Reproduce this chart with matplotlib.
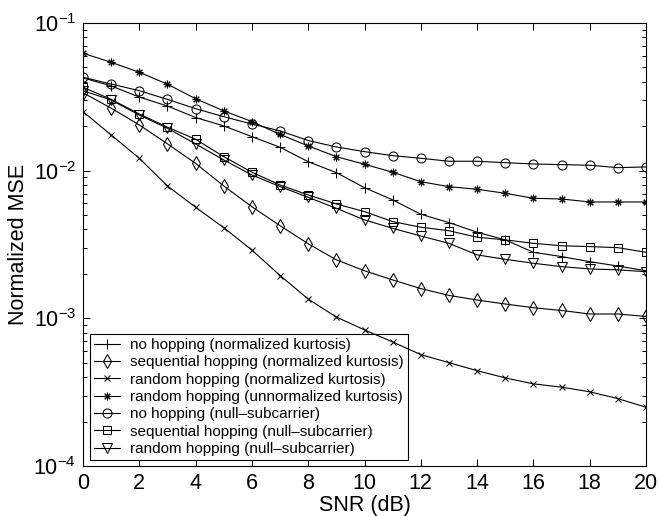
import matplotlib
matplotlib.use("Agg")
import matplotlib.pyplot as plt
import numpy as np
from matplotlib.ticker import LogLocator, FixedLocator

plt.rcParams['font.family'] = ['Liberation Sans', 'DejaVu Sans']
plt.rcParams['mathtext.fontset'] = 'custom'
plt.rcParams['mathtext.rm'] = 'Liberation Sans'
plt.rcParams['mathtext.it'] = 'Liberation Sans:italic'
plt.rcParams['mathtext.bf'] = 'Liberation Sans:bold'

# datos
snr = np.arange(0, 21)

no_hop_kurt = [0.0425, 0.0375, 0.0315, 0.0274, 0.0229, 0.0201, 0.0170, 0.0144,
               0.0115, 0.0097, 0.00767, 0.00634, 0.00507, 0.00445, 0.00383,
               0.0034, 0.0028, 0.00262, 0.00242, 0.00226, 0.0021]
seq_hop_kurt = [0.0337, 0.0265, 0.0204, 0.0152, 0.0112, 0.00788, 0.0057,
                0.00424, 0.0032, 0.00249, 0.0021, 0.00182, 0.00159, 0.00143,
                0.00133, 0.00125, 0.00118, 0.00113, 0.00107, 0.00107, 0.00103]
rnd_hop_kurt = [0.0251, 0.01745, 0.01213, 0.00788, 0.00565, 0.00411, 0.0029,
                0.00195, 0.00135, 0.00102, 0.000835, 0.000692, 0.000568,
                0.000501, 0.000442, 0.000395, 0.00036, 0.000342, 0.000318,
                0.000286, 0.00025]
rnd_hop_unnorm = [0.0624, 0.0542, 0.0464, 0.0385, 0.0307, 0.0254, 0.0215,
                  0.0176, 0.0147, 0.01244, 0.01105, 0.00976, 0.00842, 0.00779,
                  0.00748, 0.00703, 0.0065, 0.00643, 0.00614, 0.00614, 0.00614]
no_hop_null = [0.0429, 0.0386, 0.0348, 0.0304, 0.0263, 0.0232, 0.0207, 0.0186,
               0.0160, 0.01447, 0.01345, 0.01264, 0.01213, 0.01158, 0.01158,
               0.01133, 0.0111, 0.01099, 0.01088, 0.01048, 0.0106]
seq_hop_null = [0.0367, 0.0304, 0.0242, 0.0197, 0.01632, 0.01244, 0.00976,
                0.0080, 0.00685, 0.00595, 0.00528, 0.00452, 0.00414, 0.00392,
                0.00354, 0.0034, 0.00322, 0.0031, 0.00306, 0.00301, 0.0028]
rnd_hop_null = [0.0348, 0.0301, 0.0238, 0.01937, 0.01517, 0.01182, 0.00935,
                0.0078, 0.0066, 0.00556, 0.00464, 0.00407, 0.00361, 0.00322,
                0.00269, 0.00251, 0.00236, 0.00224, 0.00216, 0.00213, 0.00207]

series = [
    (no_hop_kurt, '+', 6.5, 'no hopping (normalized kurtosis)'),
    (seq_hop_kurt, 'd', 7, 'sequential hopping (normalized kurtosis)'),
    (rnd_hop_kurt, 'x', 5, 'random hopping (normalized kurtosis)'),
    (rnd_hop_unnorm, (8, 2, 0), 5.5, 'random hopping (unnormalized kurtosis)'),
    (no_hop_null, 'o', 6.5, 'no hopping (null\u2013subcarrier)'),
    (seq_hop_null, 's', 5.5, 'sequential hopping (null\u2013subcarrier)'),
    (rnd_hop_null, 'v', 6.5, 'random hopping (null\u2013subcarrier)'),
]

fig = plt.figure(figsize=(6.59, 5.16), dpi=100)
ax = fig.add_axes([83/659, 50/516, 563/659, 443/516])

for vals, mk, ms, lab in series:
    ax.plot(snr, vals, color='black', lw=0.8, marker=mk, ms=ms,
            mfc='none', mec='black', mew=0.75, label=lab, zorder=3)

ax.set_yscale('log')
ax.set_xlim(0, 20)
ax.set_ylim(1e-4, 1e-1)
ax.xaxis.set_major_locator(FixedLocator(np.arange(0, 21, 2)))
ax.yaxis.set_major_locator(LogLocator(base=10, numticks=10))
ax.yaxis.set_minor_locator(LogLocator(base=10, subs=np.arange(2, 10), numticks=10))

ax.tick_params(which='both', direction='in', top=True, right=True,
               labelsize=15.5, width=0.7)
ax.tick_params(which='major', length=5)
ax.tick_params(which='minor', length=3)
ax.tick_params(axis='x', pad=5)
ax.tick_params(axis='y', pad=5)
for s in ax.spines.values():
    s.set_linewidth(0.8)

ax.set_xlabel('SNR (dB)', fontsize=15.5, labelpad=1)
ax.set_ylabel('Normalized MSE', fontsize=15.5, labelpad=3)

leg = ax.legend(loc='lower left', bbox_to_anchor=(7/563, 6/443),
                borderaxespad=0, fontsize=11, fancybox=False, framealpha=1,
                edgecolor='black', handlelength=1.7, handletextpad=0.7,
                labelspacing=0.22, borderpad=0.25)
leg.get_frame().set_linewidth(0.8)
leg.set_zorder(2)  # la curva de saltos aleatorios pasa por encima del recuadro

fig.savefig('out.png', dpi=100)
